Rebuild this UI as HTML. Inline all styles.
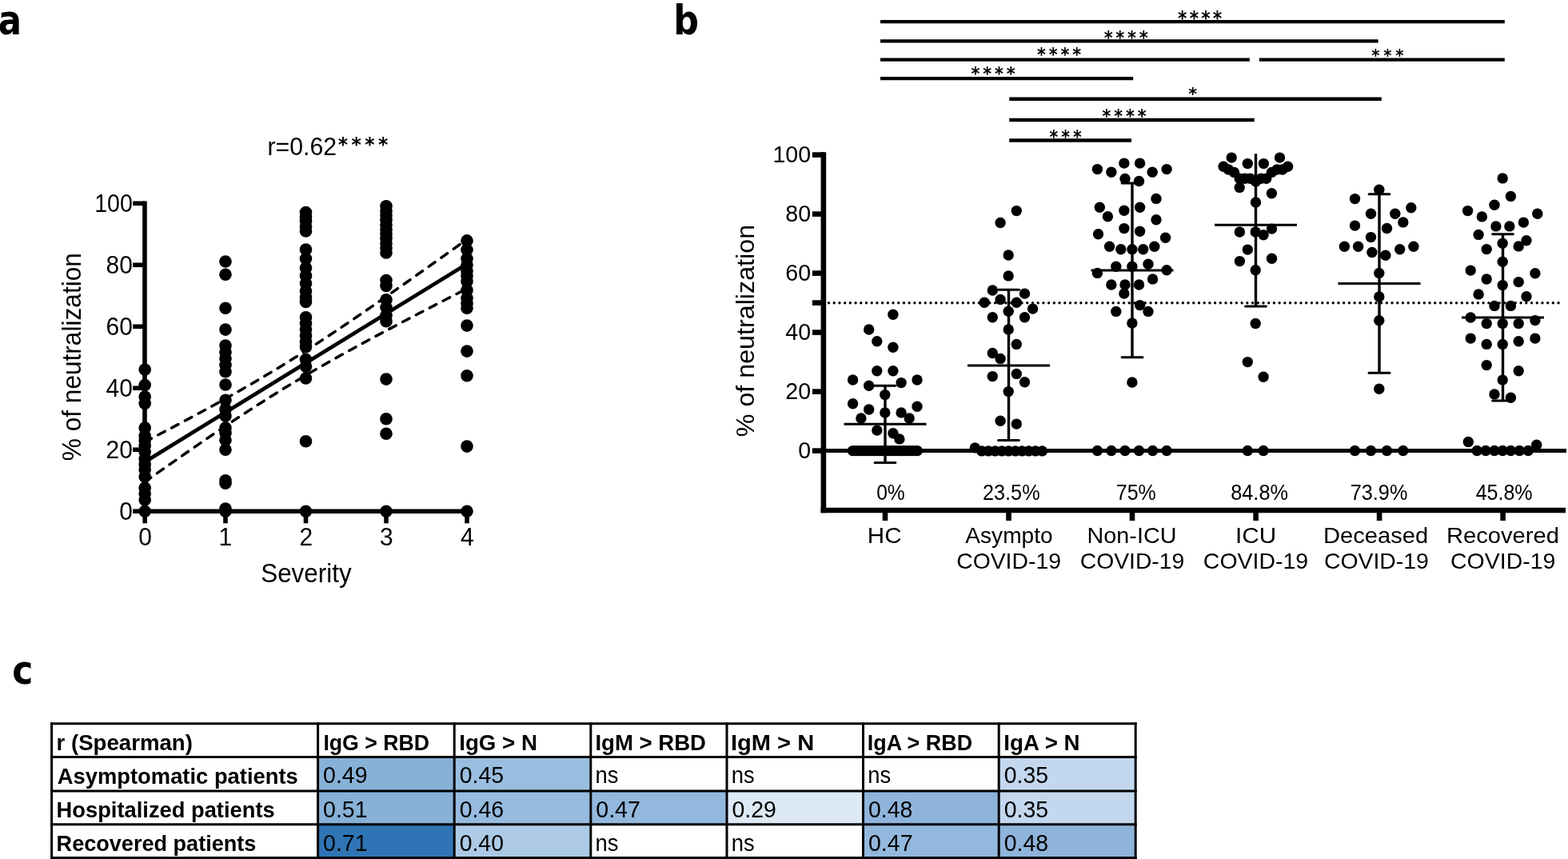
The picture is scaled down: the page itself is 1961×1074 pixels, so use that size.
<!DOCTYPE html>
<html><head><meta charset="utf-8"><title>Figure</title>
<style>
html,body{margin:0;padding:0;background:#fff;}
body{width:1961px;height:1074px;overflow:hidden;}
svg{display:block;}
svg text{font-family:'Liberation Sans', Arial, Helvetica, sans-serif;fill:#000;}
</style></head><body>
<svg width="1961" height="1074" viewBox="0 0 1961 1074">
<rect width="1961" height="1074" fill="#fff"/>
<text x="-2.36" y="42.88" font-size="51.2" font-weight="bold" style="font-family:'DejaVu Sans',sans-serif" textLength="29.27" lengthAdjust="spacingAndGlyphs">a</text>
<text x="842.28" y="42.86" font-size="52.33" font-weight="bold" style="font-family:'DejaVu Sans',sans-serif" textLength="31.71" lengthAdjust="spacingAndGlyphs">b</text>
<text x="15.20" y="854.78" font-size="50.5" font-weight="bold" style="font-family:'DejaVu Sans',sans-serif" textLength="26.15" lengthAdjust="spacingAndGlyphs">c</text>
<line x1="181.00" y1="251.50" x2="181.00" y2="641.20" stroke="#000" stroke-width="5.6"/>
<line x1="166.20" y1="639.20" x2="181.00" y2="639.20" stroke="#000" stroke-width="5.6"/>
<text x="149.29" y="649.62" font-size="31" textLength="16.68" lengthAdjust="spacingAndGlyphs">0</text>
<line x1="166.20" y1="562.22" x2="181.00" y2="562.22" stroke="#000" stroke-width="5.6"/>
<text x="132.60" y="572.64" font-size="31" textLength="33.37" lengthAdjust="spacingAndGlyphs">20</text>
<line x1="166.20" y1="485.24" x2="181.00" y2="485.24" stroke="#000" stroke-width="5.6"/>
<text x="132.60" y="495.66" font-size="31" textLength="33.37" lengthAdjust="spacingAndGlyphs">40</text>
<line x1="166.20" y1="408.26" x2="181.00" y2="408.26" stroke="#000" stroke-width="5.6"/>
<text x="132.60" y="418.68" font-size="31" textLength="33.37" lengthAdjust="spacingAndGlyphs">60</text>
<line x1="166.20" y1="331.28" x2="181.00" y2="331.28" stroke="#000" stroke-width="5.6"/>
<text x="132.60" y="341.70" font-size="31" textLength="33.37" lengthAdjust="spacingAndGlyphs">80</text>
<line x1="166.20" y1="254.30" x2="181.00" y2="254.30" stroke="#000" stroke-width="5.6"/>
<text x="118.22" y="264.72" font-size="31" textLength="47.69" lengthAdjust="spacingAndGlyphs">100</text>
<line x1="178.20" y1="639.20" x2="586.80" y2="639.20" stroke="#000" stroke-width="5.6"/>
<line x1="181.20" y1="639.20" x2="181.20" y2="654.30" stroke="#000" stroke-width="5.6"/>
<text x="173.16" y="681.60" font-size="30.6" textLength="16.68" lengthAdjust="spacingAndGlyphs">0</text>
<line x1="282.00" y1="639.20" x2="282.00" y2="654.30" stroke="#000" stroke-width="5.6"/>
<text x="273.55" y="681.60" font-size="30.6" textLength="16.68" lengthAdjust="spacingAndGlyphs">1</text>
<line x1="382.50" y1="639.20" x2="382.50" y2="654.30" stroke="#000" stroke-width="5.6"/>
<text x="374.46" y="681.60" font-size="30.6" textLength="16.68" lengthAdjust="spacingAndGlyphs">2</text>
<line x1="483.00" y1="639.20" x2="483.00" y2="654.30" stroke="#000" stroke-width="5.6"/>
<text x="475.05" y="681.60" font-size="30.6" textLength="16.68" lengthAdjust="spacingAndGlyphs">3</text>
<line x1="584.00" y1="639.20" x2="584.00" y2="654.30" stroke="#000" stroke-width="5.6"/>
<text x="576.05" y="681.60" font-size="30.6" textLength="16.68" lengthAdjust="spacingAndGlyphs">4</text>
<text x="326.17" y="728.30" font-size="32.6" textLength="113.59" lengthAdjust="spacingAndGlyphs">Severity</text>
<text transform="translate(100.98,576.23) rotate(-90)" x="0" y="0" font-size="32.68" textLength="260.08" lengthAdjust="spacingAndGlyphs">% of neutralization</text>
<text x="334.49" y="194.00" font-size="30.5" textLength="86.63" lengthAdjust="spacingAndGlyphs">r=0.62</text>
<text transform="scale(0.9520,1)" x="444.17" y="189.38" font-size="24.77" font-weight="bold" style="font-family:'DejaVu Sans',sans-serif" textLength="65.60" lengthAdjust="spacing">****</text>
<line x1="181.00" y1="577.62" x2="584.00" y2="330.05" stroke="#000" stroke-width="4.8"/>
<polyline points="181.00,552.60 186.04,549.97 191.07,547.34 196.11,544.70 201.15,542.06 206.19,539.40 211.22,536.75 216.26,534.08 221.30,531.41 226.34,528.73 231.38,526.04 236.41,523.35 241.45,520.64 246.49,517.92 251.52,515.20 256.56,512.46 261.60,509.71 266.64,506.95 271.68,504.17 276.71,501.38 281.75,498.58 286.79,495.76 291.82,492.93 296.86,490.07 301.90,487.20 306.94,484.32 311.98,481.41 317.01,478.48 322.05,475.54 327.09,472.57 332.12,469.58 337.16,466.56 342.20,463.53 347.24,460.47 352.27,457.39 357.31,454.29 362.35,451.16 367.39,448.02 372.42,444.85 377.46,441.65 382.50,438.44 387.54,435.20 392.58,431.95 397.61,428.67 402.65,425.37 407.69,422.06 412.73,418.73 417.76,415.38 422.80,412.01 427.84,408.63 432.88,405.23 437.91,401.82 442.95,398.40 447.99,394.96 453.03,391.51 458.06,388.05 463.10,384.58 468.14,381.10 473.18,377.61 478.21,374.12 483.25,370.61 488.29,367.09 493.32,363.57 498.36,360.04 503.40,356.50 508.44,352.96 513.47,349.41 518.51,345.86 523.55,342.30 528.59,338.73 533.62,335.16 538.66,331.59 543.70,328.01 548.74,324.43 553.78,320.84 558.81,317.25 563.85,313.66 568.89,310.07 573.92,306.47 578.96,302.86 584.00,299.26" fill="none" stroke="#000" stroke-width="3.5" stroke-linecap="round" stroke-dasharray="9.5 9.5"/>
<polyline points="181.00,602.63 186.04,599.07 191.07,595.51 196.11,591.96 201.15,588.42 206.19,584.88 211.22,581.35 216.26,577.83 221.30,574.31 226.34,570.80 231.38,567.30 236.41,563.80 241.45,560.32 246.49,556.85 251.52,553.39 256.56,549.93 261.60,546.49 266.64,543.07 271.68,539.65 276.71,536.25 281.75,532.87 286.79,529.50 291.82,526.14 296.86,522.81 301.90,519.49 306.94,516.19 311.98,512.90 317.01,509.64 322.05,506.40 327.09,503.18 332.12,499.98 337.16,496.80 342.20,493.65 347.24,490.52 352.27,487.41 357.31,484.32 362.35,481.26 367.39,478.22 372.42,475.20 377.46,472.20 382.50,469.23 387.54,466.27 392.58,463.34 397.61,460.43 402.65,457.53 407.69,454.66 412.73,451.80 417.76,448.96 422.80,446.14 427.84,443.33 432.88,440.54 437.91,437.76 442.95,435.00 447.99,432.24 453.03,429.50 458.06,426.77 463.10,424.05 468.14,421.34 473.18,418.64 478.21,415.95 483.25,413.27 488.29,410.60 493.32,407.93 498.36,405.27 503.40,402.62 508.44,399.97 513.47,397.33 518.51,394.70 523.55,392.07 528.59,389.44 533.62,386.82 538.66,384.21 543.70,381.60 548.74,378.99 553.78,376.39 558.81,373.79 563.85,371.19 568.89,368.60 573.92,366.01 578.96,363.42 584.00,360.84" fill="none" stroke="#000" stroke-width="3.5" stroke-linecap="round" stroke-dasharray="9.5 9.5"/>
<circle cx="181.2" cy="462.1" r="7.8"/>
<circle cx="181.2" cy="481.4" r="7.8"/>
<circle cx="181.2" cy="496.0" r="7.8"/>
<circle cx="181.2" cy="504.5" r="7.8"/>
<circle cx="181.2" cy="534.9" r="7.8"/>
<circle cx="181.2" cy="544.9" r="7.8"/>
<circle cx="181.2" cy="550.7" r="7.8"/>
<circle cx="181.2" cy="557.6" r="7.8"/>
<circle cx="181.2" cy="564.9" r="7.8"/>
<circle cx="181.2" cy="573.8" r="7.8"/>
<circle cx="181.2" cy="580.7" r="7.8"/>
<circle cx="181.2" cy="587.2" r="7.8"/>
<circle cx="181.2" cy="596.1" r="7.8"/>
<circle cx="181.2" cy="609.9" r="7.8"/>
<circle cx="181.2" cy="617.3" r="7.8"/>
<circle cx="181.2" cy="625.0" r="7.8"/>
<circle cx="181.2" cy="639.2" r="7.8"/>
<circle cx="282.0" cy="327.0" r="7.8"/>
<circle cx="282.0" cy="343.2" r="7.8"/>
<circle cx="282.0" cy="385.2" r="7.8"/>
<circle cx="282.0" cy="412.1" r="7.8"/>
<circle cx="282.0" cy="432.1" r="7.8"/>
<circle cx="282.0" cy="440.2" r="7.8"/>
<circle cx="282.0" cy="448.3" r="7.8"/>
<circle cx="282.0" cy="456.4" r="7.8"/>
<circle cx="282.0" cy="464.8" r="7.8"/>
<circle cx="282.0" cy="481.0" r="7.8"/>
<circle cx="282.0" cy="500.3" r="7.8"/>
<circle cx="282.0" cy="511.8" r="7.8"/>
<circle cx="282.0" cy="519.9" r="7.8"/>
<circle cx="282.0" cy="534.9" r="7.8"/>
<circle cx="282.0" cy="541.4" r="7.8"/>
<circle cx="282.0" cy="550.3" r="7.8"/>
<circle cx="282.0" cy="562.2" r="7.8"/>
<circle cx="282.0" cy="600.7" r="7.8"/>
<circle cx="282.0" cy="604.2" r="7.8"/>
<circle cx="282.0" cy="636.1" r="7.8"/>
<circle cx="282.0" cy="639.2" r="7.8"/>
<circle cx="382.5" cy="265.5" r="7.8"/>
<circle cx="382.5" cy="271.6" r="7.8"/>
<circle cx="382.5" cy="276.6" r="7.8"/>
<circle cx="382.5" cy="283.2" r="7.8"/>
<circle cx="382.5" cy="288.9" r="7.8"/>
<circle cx="382.5" cy="312.0" r="7.8"/>
<circle cx="382.5" cy="323.6" r="7.8"/>
<circle cx="382.5" cy="335.1" r="7.8"/>
<circle cx="382.5" cy="344.8" r="7.8"/>
<circle cx="382.5" cy="354.4" r="7.8"/>
<circle cx="382.5" cy="364.0" r="7.8"/>
<circle cx="382.5" cy="371.7" r="7.8"/>
<circle cx="382.5" cy="377.5" r="7.8"/>
<circle cx="382.5" cy="396.7" r="7.8"/>
<circle cx="382.5" cy="404.4" r="7.8"/>
<circle cx="382.5" cy="412.1" r="7.8"/>
<circle cx="382.5" cy="419.8" r="7.8"/>
<circle cx="382.5" cy="427.5" r="7.8"/>
<circle cx="382.5" cy="433.7" r="7.8"/>
<circle cx="382.5" cy="449.4" r="7.8"/>
<circle cx="382.5" cy="458.3" r="7.8"/>
<circle cx="382.5" cy="472.9" r="7.8"/>
<circle cx="382.5" cy="551.8" r="7.8"/>
<circle cx="382.5" cy="639.2" r="7.8"/>
<circle cx="483.0" cy="257.8" r="7.8"/>
<circle cx="483.0" cy="263.9" r="7.8"/>
<circle cx="483.0" cy="269.7" r="7.8"/>
<circle cx="483.0" cy="275.5" r="7.8"/>
<circle cx="483.0" cy="281.2" r="7.8"/>
<circle cx="483.0" cy="287.0" r="7.8"/>
<circle cx="483.0" cy="292.8" r="7.8"/>
<circle cx="483.0" cy="298.6" r="7.8"/>
<circle cx="483.0" cy="304.3" r="7.8"/>
<circle cx="483.0" cy="310.1" r="7.8"/>
<circle cx="483.0" cy="315.9" r="7.8"/>
<circle cx="483.0" cy="350.5" r="7.8"/>
<circle cx="483.0" cy="357.5" r="7.8"/>
<circle cx="483.0" cy="374.8" r="7.8"/>
<circle cx="483.0" cy="384.4" r="7.8"/>
<circle cx="483.0" cy="394.4" r="7.8"/>
<circle cx="483.0" cy="401.7" r="7.8"/>
<circle cx="483.0" cy="474.1" r="7.8"/>
<circle cx="483.0" cy="523.7" r="7.8"/>
<circle cx="483.0" cy="542.2" r="7.8"/>
<circle cx="483.0" cy="639.2" r="7.8"/>
<circle cx="584.0" cy="300.9" r="7.8"/>
<circle cx="584.0" cy="312.4" r="7.8"/>
<circle cx="584.0" cy="323.6" r="7.8"/>
<circle cx="584.0" cy="331.3" r="7.8"/>
<circle cx="584.0" cy="339.0" r="7.8"/>
<circle cx="584.0" cy="345.1" r="7.8"/>
<circle cx="584.0" cy="351.7" r="7.8"/>
<circle cx="584.0" cy="362.8" r="7.8"/>
<circle cx="584.0" cy="372.8" r="7.8"/>
<circle cx="584.0" cy="379.4" r="7.8"/>
<circle cx="584.0" cy="385.2" r="7.8"/>
<circle cx="584.0" cy="407.1" r="7.8"/>
<circle cx="584.0" cy="439.1" r="7.8"/>
<circle cx="584.0" cy="469.8" r="7.8"/>
<circle cx="584.0" cy="558.1" r="7.8"/>
<circle cx="584.0" cy="639.2" r="7.8"/>
<line x1="1029.90" y1="190.30" x2="1029.90" y2="641.30" stroke="#000" stroke-width="6.6"/>
<line x1="1015.90" y1="563.60" x2="1029.90" y2="563.60" stroke="#000" stroke-width="6.6"/>
<text x="998.21" y="573.42" font-size="28.6" textLength="15.91" lengthAdjust="spacingAndGlyphs">0</text>
<line x1="1015.90" y1="489.60" x2="1029.90" y2="489.60" stroke="#000" stroke-width="6.6"/>
<text x="982.31" y="499.42" font-size="28.6" textLength="31.81" lengthAdjust="spacingAndGlyphs">20</text>
<line x1="1015.90" y1="415.60" x2="1029.90" y2="415.60" stroke="#000" stroke-width="6.6"/>
<text x="982.31" y="425.42" font-size="28.6" textLength="31.81" lengthAdjust="spacingAndGlyphs">40</text>
<line x1="1015.90" y1="378.60" x2="1029.90" y2="378.60" stroke="#000" stroke-width="6.6"/>
<line x1="1015.90" y1="341.60" x2="1029.90" y2="341.60" stroke="#000" stroke-width="6.6"/>
<text x="982.31" y="351.42" font-size="28.6" textLength="31.81" lengthAdjust="spacingAndGlyphs">60</text>
<line x1="1015.90" y1="267.60" x2="1029.90" y2="267.60" stroke="#000" stroke-width="6.6"/>
<text x="982.31" y="277.42" font-size="28.6" textLength="31.81" lengthAdjust="spacingAndGlyphs">80</text>
<line x1="1015.90" y1="193.60" x2="1029.90" y2="193.60" stroke="#000" stroke-width="6.6"/>
<text x="966.40" y="203.42" font-size="28.6" textLength="47.72" lengthAdjust="spacingAndGlyphs">100</text>
<line x1="1026.60" y1="638.00" x2="1958.00" y2="638.00" stroke="#000" stroke-width="6.6"/>
<line x1="1107.00" y1="638.00" x2="1107.00" y2="651.00" stroke="#000" stroke-width="6.6"/>
<line x1="1261.50" y1="638.00" x2="1261.50" y2="651.00" stroke="#000" stroke-width="6.6"/>
<line x1="1416.00" y1="638.00" x2="1416.00" y2="651.00" stroke="#000" stroke-width="6.6"/>
<line x1="1570.60" y1="638.00" x2="1570.60" y2="651.00" stroke="#000" stroke-width="6.6"/>
<line x1="1725.10" y1="638.00" x2="1725.10" y2="651.00" stroke="#000" stroke-width="6.6"/>
<line x1="1879.60" y1="638.00" x2="1879.60" y2="651.00" stroke="#000" stroke-width="6.6"/>
<line x1="1029.90" y1="563.60" x2="1959.00" y2="563.60" stroke="#000" stroke-width="5"/>
<line x1="1036.50" y1="378.70" x2="1954.00" y2="378.70" stroke="#000" stroke-width="3.4" stroke-dasharray="0 6.71" stroke-linecap="round"/>
<text transform="translate(943.09,546.25) rotate(-90)" x="0" y="0" font-size="32.00" textLength="265.34" lengthAdjust="spacingAndGlyphs">% of neutralization</text>
<text x="1096.14" y="625.40" font-size="27.5" textLength="35.54" lengthAdjust="spacingAndGlyphs">0%</text>
<text x="1229.03" y="625.40" font-size="27.5" textLength="71.57" lengthAdjust="spacingAndGlyphs">23.5%</text>
<text x="1395.82" y="625.40" font-size="27.5" textLength="49.97" lengthAdjust="spacingAndGlyphs">75%</text>
<text x="1539.20" y="625.40" font-size="27.5" textLength="71.80" lengthAdjust="spacingAndGlyphs">84.8%</text>
<text x="1688.70" y="625.40" font-size="27.5" textLength="71.70" lengthAdjust="spacingAndGlyphs">73.9%</text>
<text x="1845.63" y="625.40" font-size="27.5" textLength="70.97" lengthAdjust="spacingAndGlyphs">45.8%</text>
<text x="1084.87" y="678.90" font-size="27.6" textLength="42.76" lengthAdjust="spacingAndGlyphs">HC</text>
<text x="1207.35" y="678.90" font-size="27.6" textLength="109.23" lengthAdjust="spacingAndGlyphs">Asympto</text>
<text x="1196.16" y="711.10" font-size="27.6" textLength="130.78" lengthAdjust="spacingAndGlyphs">COVID-19</text>
<text x="1359.64" y="678.90" font-size="27.6" textLength="111.77" lengthAdjust="spacingAndGlyphs">Non-ICU</text>
<text x="1350.76" y="711.10" font-size="27.6" textLength="130.48" lengthAdjust="spacingAndGlyphs">COVID-19</text>
<text x="1544.96" y="678.90" font-size="27.6" textLength="51.13" lengthAdjust="spacingAndGlyphs">ICU</text>
<text x="1504.85" y="711.10" font-size="27.6" textLength="131.29" lengthAdjust="spacingAndGlyphs">COVID-19</text>
<text x="1655.01" y="678.90" font-size="27.6" textLength="131.17" lengthAdjust="spacingAndGlyphs">Deceased</text>
<text x="1655.96" y="711.10" font-size="27.6" textLength="130.89" lengthAdjust="spacingAndGlyphs">COVID-19</text>
<text x="1809.01" y="678.90" font-size="27.6" textLength="140.97" lengthAdjust="spacingAndGlyphs">Recovered</text>
<text x="1814.05" y="711.10" font-size="27.6" textLength="131.29" lengthAdjust="spacingAndGlyphs">COVID-19</text>
<line x1="1101.00" y1="27.10" x2="1881.80" y2="27.10" stroke="#000" stroke-width="4.4"/>
<text transform="scale(0.9039,1)" x="1629.71" y="31.10" font-size="24.12" font-weight="bold" style="font-family:'DejaVu Sans',sans-serif" textLength="61.04" lengthAdjust="spacing">****</text>
<line x1="1101.00" y1="51.40" x2="1723.60" y2="51.40" stroke="#000" stroke-width="4.4"/>
<text transform="scale(0.9039,1)" x="1527.50" y="54.56" font-size="23.26" font-weight="bold" style="font-family:'DejaVu Sans',sans-serif" textLength="60.78" lengthAdjust="spacing">****</text>
<line x1="1101.00" y1="74.60" x2="1562.90" y2="74.60" stroke="#000" stroke-width="4.4"/>
<text transform="scale(0.9039,1)" x="1434.79" y="76.50" font-size="23.04" font-weight="bold" style="font-family:'DejaVu Sans',sans-serif" textLength="61.22" lengthAdjust="spacing">****</text>
<line x1="1574.90" y1="74.60" x2="1881.80" y2="74.60" stroke="#000" stroke-width="4.4"/>
<text transform="scale(0.9039,1)" x="1897.71" y="77.14" font-size="21.75" font-weight="bold" style="font-family:'DejaVu Sans',sans-serif" textLength="44.57" lengthAdjust="spacing">***</text>
<line x1="1101.00" y1="98.10" x2="1417.20" y2="98.10" stroke="#000" stroke-width="4.4"/>
<text transform="scale(0.9039,1)" x="1343.63" y="100.30" font-size="23.04" font-weight="bold" style="font-family:'DejaVu Sans',sans-serif" textLength="60.89" lengthAdjust="spacing">****</text>
<line x1="1262.20" y1="123.80" x2="1727.80" y2="123.80" stroke="#000" stroke-width="4.4"/>
<text transform="scale(0.9910,1)" x="1499.86" y="125.46" font-size="21.10" font-weight="bold" style="font-family:'DejaVu Sans',sans-serif">*</text>
<line x1="1262.20" y1="150.00" x2="1568.70" y2="150.00" stroke="#000" stroke-width="4.4"/>
<text transform="scale(0.9039,1)" x="1525.07" y="153.44" font-size="22.83" font-weight="bold" style="font-family:'DejaVu Sans',sans-serif" textLength="60.77" lengthAdjust="spacing">****</text>
<line x1="1262.20" y1="175.50" x2="1415.00" y2="175.50" stroke="#000" stroke-width="4.4"/>
<text transform="scale(0.9039,1)" x="1451.95" y="179.48" font-size="22.61" font-weight="bold" style="font-family:'DejaVu Sans',sans-serif" textLength="44.50" lengthAdjust="spacing">***</text>
<circle cx="1116.9" cy="393.2" r="6.7"/>
<circle cx="1086.7" cy="412.0" r="6.7"/>
<circle cx="1096.8" cy="426.8" r="6.7"/>
<circle cx="1116.9" cy="434.2" r="6.7"/>
<circle cx="1096.8" cy="463.7" r="6.7"/>
<circle cx="1116.9" cy="463.7" r="6.7"/>
<circle cx="1066.6" cy="475.0" r="6.7"/>
<circle cx="1147.0" cy="475.0" r="6.7"/>
<circle cx="1086.7" cy="482.3" r="6.7"/>
<circle cx="1127.1" cy="478.6" r="6.7"/>
<circle cx="1106.8" cy="493.6" r="6.7"/>
<circle cx="1066.6" cy="504.7" r="6.7"/>
<circle cx="1147.0" cy="508.3" r="6.7"/>
<circle cx="1086.7" cy="512.0" r="6.7"/>
<circle cx="1106.8" cy="515.9" r="6.7"/>
<circle cx="1127.1" cy="515.9" r="6.7"/>
<circle cx="1076.9" cy="522.9" r="6.7"/>
<circle cx="1137.2" cy="522.9" r="6.7"/>
<circle cx="1096.8" cy="538.1" r="6.7"/>
<circle cx="1116.9" cy="541.8" r="6.7"/>
<circle cx="1124.9" cy="548.9" r="6.7"/>
<circle cx="1066.5" cy="563.6" r="6.7"/>
<circle cx="1069.9" cy="563.6" r="6.7"/>
<circle cx="1073.2" cy="563.6" r="6.7"/>
<circle cx="1076.6" cy="563.6" r="6.7"/>
<circle cx="1080.0" cy="563.6" r="6.7"/>
<circle cx="1083.3" cy="563.6" r="6.7"/>
<circle cx="1086.7" cy="563.6" r="6.7"/>
<circle cx="1090.1" cy="563.6" r="6.7"/>
<circle cx="1093.4" cy="563.6" r="6.7"/>
<circle cx="1096.8" cy="563.6" r="6.7"/>
<circle cx="1100.2" cy="563.6" r="6.7"/>
<circle cx="1103.5" cy="563.6" r="6.7"/>
<circle cx="1106.9" cy="563.6" r="6.7"/>
<circle cx="1110.3" cy="563.6" r="6.7"/>
<circle cx="1113.6" cy="563.6" r="6.7"/>
<circle cx="1117.0" cy="563.6" r="6.7"/>
<circle cx="1120.4" cy="563.6" r="6.7"/>
<circle cx="1123.7" cy="563.6" r="6.7"/>
<circle cx="1127.1" cy="563.6" r="6.7"/>
<circle cx="1130.5" cy="563.6" r="6.7"/>
<circle cx="1133.8" cy="563.6" r="6.7"/>
<circle cx="1137.2" cy="563.6" r="6.7"/>
<circle cx="1140.6" cy="563.6" r="6.7"/>
<circle cx="1143.9" cy="563.6" r="6.7"/>
<circle cx="1147.3" cy="563.6" r="6.7"/>
<circle cx="1271.3" cy="263.6" r="6.7"/>
<circle cx="1251.1" cy="278.5" r="6.7"/>
<circle cx="1261.2" cy="319.0" r="6.7"/>
<circle cx="1261.2" cy="344.9" r="6.7"/>
<circle cx="1241.3" cy="363.0" r="6.7"/>
<circle cx="1281.5" cy="367.1" r="6.7"/>
<circle cx="1231.1" cy="378.2" r="6.7"/>
<circle cx="1251.1" cy="374.4" r="6.7"/>
<circle cx="1271.3" cy="378.2" r="6.7"/>
<circle cx="1291.6" cy="386.1" r="6.7"/>
<circle cx="1261.2" cy="389.2" r="6.7"/>
<circle cx="1241.3" cy="396.8" r="6.7"/>
<circle cx="1281.5" cy="396.8" r="6.7"/>
<circle cx="1261.2" cy="412.0" r="6.7"/>
<circle cx="1271.3" cy="430.4" r="6.7"/>
<circle cx="1241.3" cy="441.5" r="6.7"/>
<circle cx="1251.1" cy="448.4" r="6.7"/>
<circle cx="1241.3" cy="470.6" r="6.7"/>
<circle cx="1271.3" cy="467.4" r="6.7"/>
<circle cx="1281.5" cy="477.8" r="6.7"/>
<circle cx="1261.2" cy="489.6" r="6.7"/>
<circle cx="1251.1" cy="526.3" r="6.7"/>
<circle cx="1271.3" cy="530.1" r="6.7"/>
<circle cx="1219.3" cy="559.9" r="6.7"/>
<circle cx="1227.8" cy="563.9" r="6.7"/>
<circle cx="1236.2" cy="563.9" r="6.7"/>
<circle cx="1244.6" cy="563.9" r="6.7"/>
<circle cx="1253.0" cy="563.9" r="6.7"/>
<circle cx="1261.4" cy="563.9" r="6.7"/>
<circle cx="1269.8" cy="563.9" r="6.7"/>
<circle cx="1278.2" cy="563.9" r="6.7"/>
<circle cx="1286.6" cy="563.9" r="6.7"/>
<circle cx="1295.0" cy="563.9" r="6.7"/>
<circle cx="1303.4" cy="563.9" r="6.7"/>
<circle cx="1372.4" cy="211.6" r="6.7"/>
<circle cx="1389.9" cy="215.3" r="6.7"/>
<circle cx="1405.9" cy="204.1" r="6.7"/>
<circle cx="1425.6" cy="204.1" r="6.7"/>
<circle cx="1441.2" cy="215.3" r="6.7"/>
<circle cx="1459.1" cy="211.6" r="6.7"/>
<circle cx="1407.0" cy="223.5" r="6.7"/>
<circle cx="1424.5" cy="226.5" r="6.7"/>
<circle cx="1446.0" cy="248.4" r="6.7"/>
<circle cx="1375.3" cy="259.2" r="6.7"/>
<circle cx="1405.9" cy="263.3" r="6.7"/>
<circle cx="1425.6" cy="259.2" r="6.7"/>
<circle cx="1385.4" cy="270.7" r="6.7"/>
<circle cx="1446.0" cy="274.8" r="6.7"/>
<circle cx="1373.5" cy="292.7" r="6.7"/>
<circle cx="1405.9" cy="285.6" r="6.7"/>
<circle cx="1425.6" cy="289.3" r="6.7"/>
<circle cx="1457.6" cy="297.2" r="6.7"/>
<circle cx="1387.6" cy="308.3" r="6.7"/>
<circle cx="1401.8" cy="311.7" r="6.7"/>
<circle cx="1415.9" cy="311.7" r="6.7"/>
<circle cx="1429.7" cy="311.7" r="6.7"/>
<circle cx="1443.8" cy="308.3" r="6.7"/>
<circle cx="1395.8" cy="333.3" r="6.7"/>
<circle cx="1415.9" cy="333.3" r="6.7"/>
<circle cx="1436.0" cy="330.3" r="6.7"/>
<circle cx="1372.4" cy="341.4" r="6.7"/>
<circle cx="1459.1" cy="337.7" r="6.7"/>
<circle cx="1389.9" cy="356.0" r="6.7"/>
<circle cx="1407.0" cy="356.0" r="6.7"/>
<circle cx="1424.5" cy="356.0" r="6.7"/>
<circle cx="1441.6" cy="348.9" r="6.7"/>
<circle cx="1405.9" cy="367.1" r="6.7"/>
<circle cx="1425.6" cy="381.6" r="6.7"/>
<circle cx="1395.8" cy="389.4" r="6.7"/>
<circle cx="1436.0" cy="389.4" r="6.7"/>
<circle cx="1415.9" cy="404.0" r="6.7"/>
<circle cx="1415.9" cy="478.0" r="6.7"/>
<circle cx="1372.4" cy="563.5" r="6.7"/>
<circle cx="1389.9" cy="563.5" r="6.7"/>
<circle cx="1407.0" cy="563.5" r="6.7"/>
<circle cx="1424.5" cy="563.5" r="6.7"/>
<circle cx="1441.6" cy="563.5" r="6.7"/>
<circle cx="1459.1" cy="563.5" r="6.7"/>
<circle cx="1540.2" cy="197.1" r="6.7"/>
<circle cx="1560.3" cy="204.6" r="6.7"/>
<circle cx="1580.4" cy="204.6" r="6.7"/>
<circle cx="1600.5" cy="197.1" r="6.7"/>
<circle cx="1530.1" cy="208.3" r="6.7"/>
<circle cx="1536.4" cy="212.0" r="6.7"/>
<circle cx="1543.5" cy="215.4" r="6.7"/>
<circle cx="1550.2" cy="223.2" r="6.7"/>
<circle cx="1556.9" cy="223.2" r="6.7"/>
<circle cx="1563.6" cy="223.2" r="6.7"/>
<circle cx="1570.5" cy="226.9" r="6.7"/>
<circle cx="1577.0" cy="223.2" r="6.7"/>
<circle cx="1583.7" cy="223.2" r="6.7"/>
<circle cx="1590.4" cy="215.4" r="6.7"/>
<circle cx="1597.1" cy="212.0" r="6.7"/>
<circle cx="1603.9" cy="212.0" r="6.7"/>
<circle cx="1610.6" cy="208.3" r="6.7"/>
<circle cx="1550.2" cy="234.4" r="6.7"/>
<circle cx="1590.4" cy="241.8" r="6.7"/>
<circle cx="1570.5" cy="253.0" r="6.7"/>
<circle cx="1550.4" cy="290.0" r="6.7"/>
<circle cx="1570.2" cy="290.0" r="6.7"/>
<circle cx="1580.1" cy="293.8" r="6.7"/>
<circle cx="1590.5" cy="286.1" r="6.7"/>
<circle cx="1560.3" cy="312.1" r="6.7"/>
<circle cx="1550.4" cy="326.6" r="6.7"/>
<circle cx="1590.5" cy="323.2" r="6.7"/>
<circle cx="1570.2" cy="337.7" r="6.7"/>
<circle cx="1570.2" cy="404.5" r="6.7"/>
<circle cx="1560.3" cy="452.6" r="6.7"/>
<circle cx="1580.1" cy="471.3" r="6.7"/>
<circle cx="1560.3" cy="563.5" r="6.7"/>
<circle cx="1580.1" cy="563.5" r="6.7"/>
<circle cx="1724.8" cy="237.2" r="6.7"/>
<circle cx="1694.5" cy="248.6" r="6.7"/>
<circle cx="1714.5" cy="267.2" r="6.7"/>
<circle cx="1744.8" cy="267.2" r="6.7"/>
<circle cx="1764.8" cy="259.7" r="6.7"/>
<circle cx="1754.8" cy="277.9" r="6.7"/>
<circle cx="1694.5" cy="282.1" r="6.7"/>
<circle cx="1734.5" cy="285.5" r="6.7"/>
<circle cx="1714.5" cy="296.6" r="6.7"/>
<circle cx="1681.4" cy="308.3" r="6.7"/>
<circle cx="1698.6" cy="308.3" r="6.7"/>
<circle cx="1715.9" cy="315.5" r="6.7"/>
<circle cx="1732.8" cy="319.3" r="6.7"/>
<circle cx="1750.7" cy="311.7" r="6.7"/>
<circle cx="1767.9" cy="308.3" r="6.7"/>
<circle cx="1724.8" cy="341.4" r="6.7"/>
<circle cx="1724.8" cy="371.0" r="6.7"/>
<circle cx="1724.8" cy="400.7" r="6.7"/>
<circle cx="1724.8" cy="486.2" r="6.7"/>
<circle cx="1694.5" cy="563.5" r="6.7"/>
<circle cx="1714.5" cy="563.5" r="6.7"/>
<circle cx="1734.5" cy="563.5" r="6.7"/>
<circle cx="1754.8" cy="563.5" r="6.7"/>
<circle cx="1879.2" cy="222.9" r="6.7"/>
<circle cx="1889.4" cy="245.4" r="6.7"/>
<circle cx="1869.0" cy="256.3" r="6.7"/>
<circle cx="1835.6" cy="263.6" r="6.7"/>
<circle cx="1853.4" cy="270.9" r="6.7"/>
<circle cx="1922.8" cy="267.2" r="6.7"/>
<circle cx="1870.9" cy="282.9" r="6.7"/>
<circle cx="1887.9" cy="282.9" r="6.7"/>
<circle cx="1905.4" cy="278.1" r="6.7"/>
<circle cx="1849.1" cy="293.4" r="6.7"/>
<circle cx="1879.2" cy="304.3" r="6.7"/>
<circle cx="1899.2" cy="307.9" r="6.7"/>
<circle cx="1909.0" cy="300.7" r="6.7"/>
<circle cx="1859.2" cy="311.6" r="6.7"/>
<circle cx="1879.2" cy="327.2" r="6.7"/>
<circle cx="1839.2" cy="338.1" r="6.7"/>
<circle cx="1859.2" cy="349.0" r="6.7"/>
<circle cx="1919.9" cy="341.7" r="6.7"/>
<circle cx="1879.2" cy="356.6" r="6.7"/>
<circle cx="1899.2" cy="352.6" r="6.7"/>
<circle cx="1849.1" cy="367.9" r="6.7"/>
<circle cx="1909.0" cy="370.8" r="6.7"/>
<circle cx="1869.0" cy="382.4" r="6.7"/>
<circle cx="1889.4" cy="382.4" r="6.7"/>
<circle cx="1839.2" cy="397.0" r="6.7"/>
<circle cx="1859.2" cy="404.6" r="6.7"/>
<circle cx="1879.2" cy="404.6" r="6.7"/>
<circle cx="1899.2" cy="404.6" r="6.7"/>
<circle cx="1919.9" cy="400.6" r="6.7"/>
<circle cx="1839.2" cy="423.1" r="6.7"/>
<circle cx="1859.2" cy="430.4" r="6.7"/>
<circle cx="1879.2" cy="430.4" r="6.7"/>
<circle cx="1899.2" cy="426.8" r="6.7"/>
<circle cx="1919.9" cy="423.1" r="6.7"/>
<circle cx="1859.2" cy="456.6" r="6.7"/>
<circle cx="1899.2" cy="463.8" r="6.7"/>
<circle cx="1879.2" cy="475.1" r="6.7"/>
<circle cx="1869.0" cy="492.9" r="6.7"/>
<circle cx="1889.4" cy="497.3" r="6.7"/>
<circle cx="1836.3" cy="552.5" r="6.7"/>
<circle cx="1921.7" cy="556.2" r="6.7"/>
<circle cx="1847.2" cy="563.5" r="6.7"/>
<circle cx="1858.1" cy="563.5" r="6.7"/>
<circle cx="1869.0" cy="563.5" r="6.7"/>
<circle cx="1879.2" cy="563.5" r="6.7"/>
<circle cx="1889.4" cy="563.5" r="6.7"/>
<circle cx="1900.3" cy="563.5" r="6.7"/>
<circle cx="1911.2" cy="563.5" r="6.7"/>
<line x1="1107.00" y1="482.30" x2="1107.00" y2="578.40" stroke="#000" stroke-width="3.4"/>
<line x1="1055.50" y1="530.30" x2="1158.50" y2="530.30" stroke="#000" stroke-width="3"/>
<line x1="1094.10" y1="482.30" x2="1119.90" y2="482.30" stroke="#000" stroke-width="3" stroke-linecap="round"/>
<line x1="1094.10" y1="578.40" x2="1119.90" y2="578.40" stroke="#000" stroke-width="3" stroke-linecap="round"/>
<line x1="1261.50" y1="362.30" x2="1261.50" y2="550.60" stroke="#000" stroke-width="3.4"/>
<line x1="1210.00" y1="457.00" x2="1313.00" y2="457.00" stroke="#000" stroke-width="3"/>
<line x1="1248.60" y1="362.30" x2="1274.40" y2="362.30" stroke="#000" stroke-width="3" stroke-linecap="round"/>
<line x1="1248.60" y1="550.60" x2="1274.40" y2="550.60" stroke="#000" stroke-width="3" stroke-linecap="round"/>
<line x1="1416.00" y1="229.00" x2="1416.00" y2="446.70" stroke="#000" stroke-width="3.4"/>
<line x1="1364.50" y1="338.10" x2="1467.50" y2="338.10" stroke="#000" stroke-width="3"/>
<line x1="1403.10" y1="229.00" x2="1428.90" y2="229.00" stroke="#000" stroke-width="3" stroke-linecap="round"/>
<line x1="1403.10" y1="446.70" x2="1428.90" y2="446.70" stroke="#000" stroke-width="3" stroke-linecap="round"/>
<line x1="1570.50" y1="192.30" x2="1570.50" y2="383.10" stroke="#000" stroke-width="3.4"/>
<line x1="1519.00" y1="281.20" x2="1622.00" y2="281.20" stroke="#000" stroke-width="3"/>
<line x1="1557.60" y1="383.10" x2="1583.40" y2="383.10" stroke="#000" stroke-width="3" stroke-linecap="round"/>
<line x1="1725.00" y1="242.80" x2="1725.00" y2="466.20" stroke="#000" stroke-width="3.4"/>
<line x1="1673.50" y1="354.50" x2="1776.50" y2="354.50" stroke="#000" stroke-width="3"/>
<line x1="1712.10" y1="242.80" x2="1737.90" y2="242.80" stroke="#000" stroke-width="3" stroke-linecap="round"/>
<line x1="1712.10" y1="466.20" x2="1737.90" y2="466.20" stroke="#000" stroke-width="3" stroke-linecap="round"/>
<line x1="1879.50" y1="292.70" x2="1879.50" y2="500.90" stroke="#000" stroke-width="3.4"/>
<line x1="1828.00" y1="397.00" x2="1931.00" y2="397.00" stroke="#000" stroke-width="3"/>
<line x1="1866.60" y1="292.70" x2="1892.40" y2="292.70" stroke="#000" stroke-width="3" stroke-linecap="round"/>
<line x1="1866.60" y1="500.90" x2="1892.40" y2="500.90" stroke="#000" stroke-width="3" stroke-linecap="round"/>
<rect x="397.6" y="946.6" width="170.6" height="42.3" fill="#88B1D8"/>
<rect x="568.2" y="946.6" width="170.6" height="42.3" fill="#9ABEE0"/>
<rect x="1249.2" y="946.6" width="171.0" height="42.3" fill="#C3D8EE"/>
<rect x="397.6" y="988.9" width="170.6" height="41.9" fill="#88B1D8"/>
<rect x="568.2" y="988.9" width="170.6" height="41.9" fill="#97BBDF"/>
<rect x="738.8" y="988.9" width="170.2" height="41.9" fill="#93B8DD"/>
<rect x="909" y="988.9" width="170.5" height="41.9" fill="#DDE9F5"/>
<rect x="1079.5" y="988.9" width="169.7" height="41.9" fill="#8FB4DB"/>
<rect x="1249.2" y="988.9" width="171.0" height="41.9" fill="#C3D8EE"/>
<rect x="397.6" y="1030.8" width="170.6" height="41.8" fill="#2F75B5"/>
<rect x="568.2" y="1030.8" width="170.6" height="41.8" fill="#ACCAE5"/>
<rect x="1079.5" y="1030.8" width="169.7" height="41.8" fill="#93B8DD"/>
<rect x="1249.2" y="1030.8" width="171.0" height="41.8" fill="#8FB4DB"/>
<line x1="64.60" y1="903.30" x2="64.60" y2="1074.10" stroke="#000" stroke-width="3"/>
<line x1="397.60" y1="903.30" x2="397.60" y2="1074.10" stroke="#000" stroke-width="3"/>
<line x1="568.20" y1="903.30" x2="568.20" y2="1074.10" stroke="#000" stroke-width="3"/>
<line x1="738.80" y1="903.30" x2="738.80" y2="1074.10" stroke="#000" stroke-width="3"/>
<line x1="909.00" y1="903.30" x2="909.00" y2="1074.10" stroke="#000" stroke-width="3"/>
<line x1="1079.50" y1="903.30" x2="1079.50" y2="1074.10" stroke="#000" stroke-width="3"/>
<line x1="1249.20" y1="903.30" x2="1249.20" y2="1074.10" stroke="#000" stroke-width="3"/>
<line x1="1420.20" y1="903.30" x2="1420.20" y2="1074.10" stroke="#000" stroke-width="3"/>
<line x1="63.10" y1="904.80" x2="1421.70" y2="904.80" stroke="#000" stroke-width="3"/>
<line x1="63.10" y1="946.60" x2="1421.70" y2="946.60" stroke="#000" stroke-width="3"/>
<line x1="63.10" y1="988.90" x2="1421.70" y2="988.90" stroke="#000" stroke-width="3"/>
<line x1="63.10" y1="1030.80" x2="1421.70" y2="1030.80" stroke="#000" stroke-width="3"/>
<line x1="63.10" y1="1072.60" x2="1421.70" y2="1072.60" stroke="#000" stroke-width="3"/>
<text x="70.58" y="938.20" font-size="28.5" font-weight="bold" textLength="170.29" lengthAdjust="spacingAndGlyphs">r (Spearman)</text>
<text x="404.41" y="938.20" font-size="28.5" font-weight="bold" textLength="132.71" lengthAdjust="spacingAndGlyphs">IgG &gt; RBD</text>
<text x="574.25" y="938.20" font-size="28.5" font-weight="bold" textLength="97.72" lengthAdjust="spacingAndGlyphs">IgG &gt; N</text>
<text x="744.46" y="938.20" font-size="28.5" font-weight="bold" textLength="138.50" lengthAdjust="spacingAndGlyphs">IgM &gt; RBD</text>
<text x="913.95" y="938.20" font-size="28.5" font-weight="bold" textLength="104.20" lengthAdjust="spacingAndGlyphs">IgM &gt; N</text>
<text x="1084.81" y="938.20" font-size="28.5" font-weight="bold" textLength="131.31" lengthAdjust="spacingAndGlyphs">IgA &gt; RBD</text>
<text x="1255.37" y="938.20" font-size="28.5" font-weight="bold" textLength="95.18" lengthAdjust="spacingAndGlyphs">IgA &gt; N</text>
<text x="71.72" y="979.90" font-size="28.5" font-weight="bold" textLength="301.10" lengthAdjust="spacingAndGlyphs">Asymptomatic patients</text>
<text x="404.09" y="979.40" font-size="28.6" textLength="55.46" lengthAdjust="spacingAndGlyphs">0.49</text>
<text x="574.69" y="979.40" font-size="28.6" textLength="55.30" lengthAdjust="spacingAndGlyphs">0.45</text>
<text x="744.58" y="979.40" font-size="28.6" textLength="28.91" lengthAdjust="spacingAndGlyphs">ns</text>
<text x="914.78" y="979.40" font-size="28.6" textLength="28.91" lengthAdjust="spacingAndGlyphs">ns</text>
<text x="1085.28" y="979.40" font-size="28.6" textLength="28.91" lengthAdjust="spacingAndGlyphs">ns</text>
<text x="1255.69" y="979.40" font-size="28.6" textLength="55.30" lengthAdjust="spacingAndGlyphs">0.35</text>
<text x="70.57" y="1022.20" font-size="28.5" font-weight="bold" textLength="273.15" lengthAdjust="spacingAndGlyphs">Hospitalized patients</text>
<text x="404.09" y="1021.70" font-size="28.6" textLength="55.51" lengthAdjust="spacingAndGlyphs">0.51</text>
<text x="574.69" y="1021.70" font-size="28.6" textLength="55.36" lengthAdjust="spacingAndGlyphs">0.46</text>
<text x="745.29" y="1021.70" font-size="28.6" textLength="55.55" lengthAdjust="spacingAndGlyphs">0.47</text>
<text x="915.49" y="1021.70" font-size="28.6" textLength="55.46" lengthAdjust="spacingAndGlyphs">0.29</text>
<text x="1085.99" y="1021.70" font-size="28.6" textLength="55.35" lengthAdjust="spacingAndGlyphs">0.48</text>
<text x="1255.69" y="1021.70" font-size="28.6" textLength="55.30" lengthAdjust="spacingAndGlyphs">0.35</text>
<text x="70.59" y="1064.10" font-size="28.5" font-weight="bold" textLength="249.82" lengthAdjust="spacingAndGlyphs">Recovered patients</text>
<text x="404.09" y="1063.60" font-size="28.6" textLength="55.51" lengthAdjust="spacingAndGlyphs">0.71</text>
<text x="574.69" y="1063.60" font-size="28.6" textLength="55.22" lengthAdjust="spacingAndGlyphs">0.40</text>
<text x="744.58" y="1063.60" font-size="28.6" textLength="28.91" lengthAdjust="spacingAndGlyphs">ns</text>
<text x="914.78" y="1063.60" font-size="28.6" textLength="28.91" lengthAdjust="spacingAndGlyphs">ns</text>
<text x="1085.99" y="1063.60" font-size="28.6" textLength="55.55" lengthAdjust="spacingAndGlyphs">0.47</text>
<text x="1255.69" y="1063.60" font-size="28.6" textLength="55.35" lengthAdjust="spacingAndGlyphs">0.48</text>
</svg>
</body></html>
